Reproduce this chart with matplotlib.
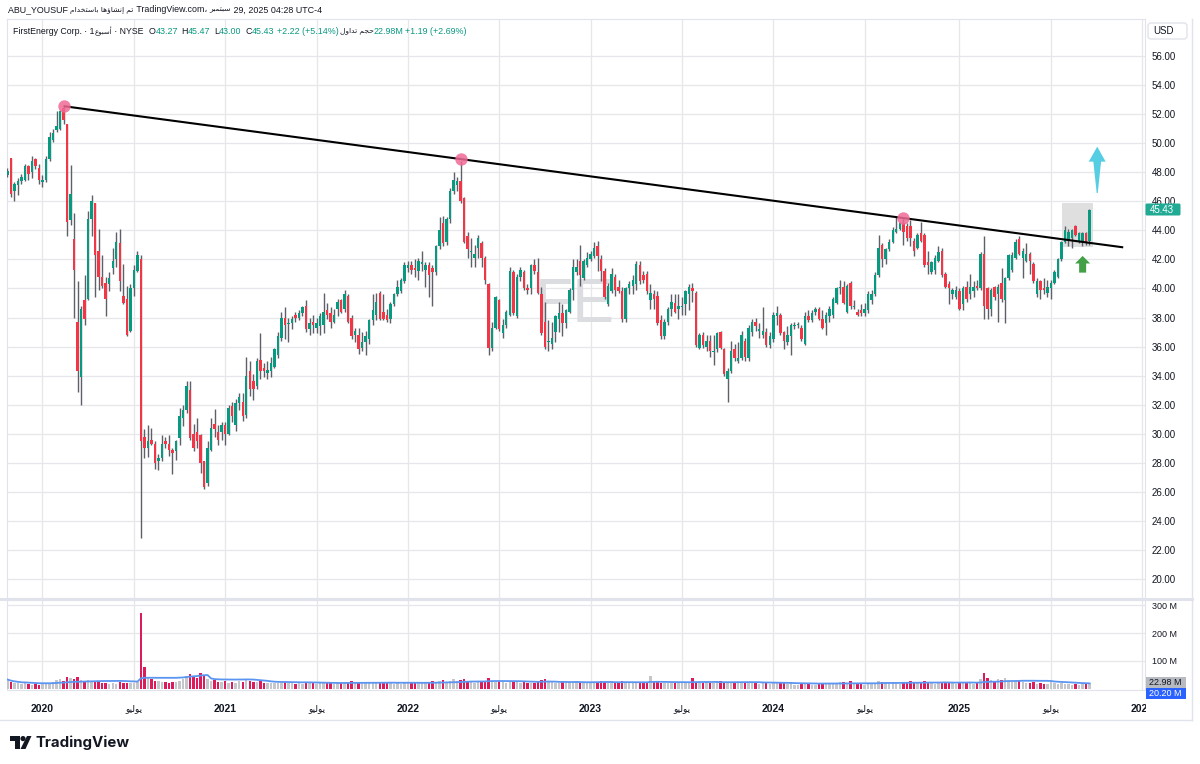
import numpy as np
import pandas as pd
import matplotlib
matplotlib.use("Agg")
import matplotlib.pyplot as plt
from matplotlib.patches import Rectangle, Polygon, Circle, FancyBboxPatch
from matplotlib.lines import Line2D

# FirstEnergy (FE) weekly candles, first bar = week of 2019-10-28
open_ = [
    47.8, 49.0, 46.7, 47.1, 47.4, 47.5, 48.4, 48.0, 48.9, 48.3,
    47.3, 47.5, 48.9, 50.2, 50.9, 51.0, 52.4, 51.3, 44.7, 43.4,
    37.7, 33.9, 39.2, 39.3, 44.8, 45.9, 42.6, 40.8, 40.4, 40.3,
    41.4, 42.0, 43.1, 39.5, 39.3, 37.1, 40.0, 41.2, 42.0, 29.8,
    29.0, 29.6, 29.3, 28.1, 28.3, 29.5, 29.3, 28.9, 28.8, 29.7,
    31.1, 31.6, 33.0, 30.0, 30.1, 29.9, 28.1, 26.6, 28.9, 30.7,
    30.1, 30.1, 30.6, 30.0, 31.9, 30.6, 32.1, 32.2, 31.3, 34.3,
    33.6, 33.3, 35.1, 34.5, 34.2, 34.3, 34.6, 35.4, 36.6, 38.0,
    37.55, 37.6, 38.2, 38.0, 38.3, 38.8, 37.2, 37.7, 37.3, 37.4,
    37.5, 38.5, 38.3, 37.7, 38.6, 39.2, 38.6, 39.5, 38.0, 36.8,
    36.8, 35.9, 36.3, 36.5, 37.8, 38.2, 39.7, 38.4, 38.2, 37.9,
    38.9, 39.6, 39.8, 40.5, 41.4, 41.6, 41.4, 41.2, 41.7, 41.3,
    41.6, 41.4, 41.1, 42.9, 44.5, 43.2, 44.8, 46.7, 47.1, 47.4,
    46.2, 43.6, 42.5, 42.1, 42.8, 43.1, 42.1, 40.3, 35.9, 37.3,
    39.2, 36.9, 37.5, 38.2, 41.1, 38.1, 40.8, 41.1, 40.0, 40.0,
    41.6, 41.1, 39.6, 37.7, 36.3, 36.2, 37.0, 37.9, 38.3, 37.6,
    38.4, 39.9, 41.1, 41.9, 40.7, 41.6, 42.0, 42.2, 42.9, 42.0,
    41.2, 38.9, 39.8, 40.8, 40.1, 39.8, 37.9, 40.0, 40.2, 40.3,
    41.6, 40.9, 41.0, 39.2, 39.6, 39.5, 37.8, 36.7, 37.7, 38.6,
    39.0, 38.6, 38.7, 38.9, 39.6, 40.0, 39.7, 35.9, 36.8, 36.0,
    36.4, 35.6, 35.8, 37.0, 35.8, 33.8, 34.3, 35.8, 35.0, 35.2,
    36.4, 35.2, 37.0, 37.7, 37.1, 36.8, 37.0, 36.1, 36.5, 38.1,
    38.2, 37.0, 36.3, 36.7, 37.4, 37.5, 37.3, 36.2, 38.1, 37.8,
    38.4, 38.6, 37.9, 37.6, 38.1, 38.2, 39.0, 40.0, 40.1, 38.4,
    40.4, 38.7, 38.4, 38.5, 38.3, 38.5, 39.2, 39.6, 40.9, 43.0,
    42.0, 42.7, 43.2, 43.9, 44.1, 44.5, 44.3, 44.3, 43.3, 42.8,
    43.8, 43.7, 41.8, 41.1, 41.3, 41.9, 42.6, 41.0, 40.3, 39.6,
    39.4, 39.8, 38.9, 40.1, 39.6, 39.8, 40.2, 40.0, 42.4, 40.0,
    38.6, 40.1, 39.6, 40.4, 39.2, 40.7, 41.3, 42.1, 43.4, 42.1,
    41.9, 42.4, 41.7, 39.6, 40.5, 40.0, 39.7, 40.0, 40.4, 40.8,
    42.0, 43.2, 43.3, 43.5, 44.3, 43.2, 43.2, 43.8, 43.27,
]
high = [
    48.3, 49.0, 47.3, 47.6, 47.9, 48.6, 48.5, 49.1, 49.0, 48.6,
    47.8, 49.1, 50.8, 51.0, 52.2, 52.3, 52.6, 51.3, 48.5, 45.2,
    40.5, 38.8, 40.9, 45.3, 46.4, 45.9, 44.1, 42.3, 40.8, 41.1,
    42.8, 43.9, 44.1, 41.7, 40.2, 40.3, 41.6, 42.6, 42.3, 30.3,
    30.6, 30.4, 29.5, 28.6, 29.9, 29.8, 29.9, 29.0, 29.6, 31.8,
    32.0, 33.6, 33.6, 30.7, 31.1, 30.0, 28.1, 29.5, 31.1, 31.7,
    30.6, 30.8, 30.8, 32.0, 32.2, 32.4, 32.8, 32.8, 35.3, 35.0,
    34.1, 35.2, 36.9, 34.9, 35.0, 35.3, 35.9, 37.0, 38.4, 38.7,
    38.0, 38.1, 38.4, 38.5, 38.8, 39.2, 38.0, 38.2, 38.0, 38.3,
    39.7, 39.0, 38.7, 38.6, 39.3, 39.3, 39.9, 39.6, 38.2, 37.3,
    37.3, 37.0, 37.1, 37.9, 39.6, 39.7, 39.8, 39.6, 38.6, 39.1,
    39.7, 40.6, 40.7, 41.8, 41.9, 41.9, 42.0, 42.1, 42.6, 41.8,
    41.8, 41.6, 43.0, 44.9, 45.0, 44.9, 46.9, 48.0, 47.7, 48.8,
    46.3, 43.9, 43.5, 43.0, 43.7, 43.3, 42.2, 40.4, 37.7, 39.5,
    39.3, 37.9, 38.5, 41.5, 41.3, 41.0, 41.5, 41.3, 40.3, 41.7,
    42.0, 42.1, 40.1, 39.1, 37.8, 37.7, 38.2, 39.1, 38.9, 38.6,
    40.0, 42.0, 42.0, 43.0, 42.0, 42.5, 42.6, 43.2, 43.3, 42.3,
    41.4, 40.4, 41.4, 41.0, 40.6, 40.1, 40.1, 40.5, 40.9, 41.9,
    41.9, 41.2, 41.2, 40.3, 39.9, 39.8, 38.2, 37.9, 38.7, 39.6,
    39.6, 39.6, 39.4, 39.9, 40.3, 40.4, 39.8, 36.9, 37.0, 36.8,
    36.8, 36.8, 37.0, 37.1, 35.9, 34.5, 36.4, 36.2, 36.3, 37.1,
    36.6, 37.5, 37.9, 38.0, 37.6, 38.7, 37.3, 37.0, 38.4, 38.8,
    38.3, 37.1, 37.4, 37.6, 37.7, 37.7, 37.5, 38.4, 38.5, 38.5,
    38.7, 38.7, 38.5, 38.4, 38.8, 39.4, 40.1, 40.6, 40.5, 40.3,
    40.5, 39.2, 38.6, 38.9, 39.0, 39.8, 39.9, 41.1, 43.7, 43.1,
    42.8, 43.4, 44.2, 44.9, 44.6, 44.85, 44.5, 44.7, 43.5, 43.8,
    44.6, 43.8, 42.6, 41.9, 42.3, 42.9, 42.8, 41.1, 40.5, 40.0,
    40.2, 40.0, 40.2, 40.5, 41.0, 40.5, 40.6, 42.5, 43.6, 40.1,
    40.0, 40.2, 40.3, 41.4, 40.8, 42.4, 42.5, 43.4, 43.6, 42.8,
    43.1, 42.5, 41.8, 40.7, 40.6, 40.7, 40.6, 40.6, 41.3, 42.1,
    43.3, 44.3, 44.1, 44.1, 44.4, 43.9, 43.9, 43.9, 45.47,
]
low = [
    47.7, 46.3, 46.0, 46.4, 47.2, 47.4, 47.5, 47.6, 48.2, 47.2,
    47.0, 47.3, 48.8, 50.1, 50.8, 50.9, 51.3, 43.6, 44.4, 38.0,
    32.9, 32.0, 37.5, 39.2, 43.6, 39.4, 39.9, 40.0, 38.1, 39.8,
    41.0, 41.5, 39.8, 38.9, 36.7, 37.0, 39.5, 41.1, 22.8, 28.3,
    28.4, 29.2, 27.6, 27.5, 28.1, 29.0, 28.5, 27.2, 28.2, 29.2,
    30.5, 31.4, 29.6, 28.8, 29.0, 27.3, 26.2, 26.4, 28.8, 29.8,
    29.2, 29.6, 29.2, 29.9, 30.8, 30.2, 31.6, 30.9, 31.1, 32.6,
    32.3, 33.1, 33.8, 33.9, 33.8, 33.9, 34.5, 35.2, 36.4, 36.5,
    36.3, 37.2, 37.7, 37.8, 38.1, 37.0, 36.8, 36.9, 36.9, 36.8,
    36.9, 37.9, 37.3, 37.6, 38.1, 38.3, 38.4, 37.6, 36.5, 36.3,
    35.5, 35.7, 35.4, 36.2, 37.5, 37.8, 37.8, 37.8, 37.7, 37.6,
    38.8, 39.5, 39.7, 40.4, 41.1, 41.0, 40.8, 40.6, 41.2, 40.1,
    39.4, 38.8, 40.9, 42.7, 42.9, 43.0, 44.5, 46.5, 46.7, 45.9,
    43.1, 42.1, 41.5, 41.5, 42.1, 41.5, 40.3, 35.4, 35.7, 37.2,
    37.1, 36.6, 37.3, 38.1, 38.2, 38.0, 40.5, 39.9, 39.6, 39.6,
    41.0, 39.6, 36.8, 35.8, 35.7, 35.8, 36.3, 37.0, 36.7, 37.3,
    38.3, 39.2, 40.9, 40.2, 40.6, 41.5, 41.9, 42.1, 41.2, 40.5,
    39.3, 38.8, 39.7, 39.5, 39.7, 37.7, 37.7, 39.6, 39.6, 39.9,
    40.3, 40.4, 39.6, 38.6, 38.6, 37.5, 36.5, 36.5, 37.5, 38.1,
    38.3, 37.9, 38.2, 38.2, 38.5, 39.1, 36.0, 35.8, 35.9, 35.7,
    35.3, 34.7, 35.6, 35.8, 34.0, 32.2, 34.2, 35.0, 34.9, 35.1,
    35.0, 35.0, 36.7, 37.1, 36.6, 36.6, 36.0, 35.9, 36.3, 37.5,
    36.8, 35.8, 36.1, 35.4, 37.2, 37.3, 36.4, 36.1, 37.7, 37.7,
    38.2, 37.8, 37.2, 36.8, 37.7, 38.0, 38.9, 39.6, 38.9, 38.3,
    38.6, 38.6, 38.1, 38.1, 38.1, 38.3, 38.9, 39.5, 40.8, 41.5,
    41.7, 42.6, 43.1, 43.8, 44.0, 43.0, 43.3, 42.9, 42.2, 42.7,
    43.2, 41.5, 41.0, 41.0, 41.0, 41.8, 40.8, 40.0, 38.9, 39.3,
    39.3, 38.5, 38.5, 39.1, 39.3, 39.4, 39.9, 39.9, 37.9, 37.9,
    38.1, 39.2, 37.7, 39.1, 37.6, 40.6, 41.1, 42.0, 42.3, 40.7,
    41.8, 41.0, 40.4, 39.4, 39.3, 39.6, 39.4, 39.3, 40.3, 40.7,
    41.9, 43.1, 42.9, 42.8, 43.6, 43.1, 42.9, 43.0, 43.00,
]
close = [
    48.1, 46.5, 47.2, 47.4, 47.7, 48.4, 47.9, 48.8, 48.4, 47.5,
    47.5, 48.9, 50.4, 50.7, 51.2, 52.2, 51.6, 44.6, 46.5, 41.3,
    34.3, 38.6, 37.9, 44.8, 46.0, 42.3, 40.8, 40.2, 39.3, 40.7,
    41.9, 43.2, 40.5, 39.0, 36.8, 40.0, 41.3, 42.3, 29.5, 29.0,
    29.5, 29.3, 28.0, 28.3, 29.3, 29.3, 28.9, 28.7, 29.5, 31.2,
    31.6, 33.3, 29.7, 29.0, 29.5, 28.0, 26.3, 29.0, 30.4, 30.3,
    29.6, 30.6, 30.0, 31.8, 31.2, 32.1, 32.5, 31.2, 34.0, 33.1,
    33.1, 35.0, 34.3, 34.3, 34.4, 34.9, 35.8, 36.7, 38.0, 37.5,
    37.6, 37.9, 38.0, 38.3, 38.7, 37.2, 37.6, 37.5, 37.6, 38.1,
    38.4, 38.2, 37.7, 38.2, 39.1, 38.4, 39.6, 37.7, 36.7, 37.1,
    35.8, 36.3, 36.7, 37.8, 38.5, 39.1, 37.9, 37.9, 37.8, 38.9,
    39.6, 40.1, 40.6, 41.6, 41.6, 41.3, 41.3, 41.9, 41.8, 41.6,
    40.9, 41.1, 42.9, 44.0, 43.1, 44.8, 46.7, 47.5, 47.4, 46.0,
    43.2, 42.7, 42.6, 42.4, 43.5, 42.1, 40.6, 35.9, 37.3, 39.4,
    37.2, 37.5, 38.4, 41.2, 38.3, 40.8, 41.3, 40.0, 39.9, 41.6,
    41.2, 39.7, 36.9, 36.0, 36.4, 36.6, 38.1, 38.3, 37.6, 38.5,
    39.9, 41.5, 41.5, 40.9, 41.9, 42.1, 42.4, 42.8, 42.2, 41.2,
    39.4, 40.2, 41.0, 39.9, 39.8, 37.9, 40.0, 40.3, 40.6, 41.7,
    40.5, 40.6, 39.8, 39.7, 39.3, 37.6, 36.7, 37.7, 38.6, 39.1,
    38.4, 38.8, 38.8, 39.8, 40.1, 39.8, 36.1, 36.8, 36.1, 36.4,
    35.7, 35.7, 36.9, 35.9, 34.1, 34.3, 35.7, 35.2, 35.2, 36.8,
    35.3, 37.3, 37.7, 37.4, 37.2, 37.1, 36.1, 36.7, 38.2, 38.3,
    36.9, 36.4, 36.8, 37.5, 37.5, 37.55, 36.5, 38.1, 37.8, 38.3,
    38.6, 37.9, 37.3, 38.2, 38.6, 39.3, 40.0, 40.05, 39.0, 40.2,
    38.8, 38.8, 38.2, 38.3, 38.6, 39.6, 39.6, 40.9, 42.8, 42.0,
    42.7, 43.2, 44.0, 44.1, 44.5, 43.9, 43.5, 43.5, 42.6, 43.7,
    43.3, 41.6, 41.6, 41.8, 42.1, 42.5, 40.9, 40.1, 40.0, 39.9,
    39.9, 38.6, 40.0, 39.3, 40.1, 40.1, 40.0, 42.4, 38.8, 38.6,
    39.9, 39.4, 40.1, 39.3, 40.7, 42.3, 42.3, 43.2, 42.4, 42.6,
    42.4, 41.9, 40.5, 40.5, 39.9, 39.9, 40.1, 40.4, 41.1, 42.0,
    43.2, 44.0, 43.9, 44.0, 43.7, 43.8, 43.8, 43.21, 45.43,
]
# weekly volume, millions
volume_m = [
    34, 26, 22, 20, 18, 21, 19, 16, 17, 13,
    20, 18, 22, 26, 33, 34, 28, 44, 40, 36,
    42, 32, 28, 33, 26, 30, 24, 22, 20, 18,
    20, 18, 24, 22, 23, 20, 22, 26, 272, 80,
    40, 34, 30, 28, 25, 24, 22, 26, 24, 30,
    34, 48, 55, 44, 40, 58, 45, 36, 30, 32,
    26, 24, 28, 22, 26, 23, 28, 24, 32, 28,
    26, 24, 28, 23, 20, 22, 21, 23, 28, 26,
    20, 22, 18, 20, 19, 26, 22, 20, 18, 21,
    24, 20, 22, 19, 20, 23, 21, 26, 28, 22,
    26, 20, 22, 24, 20, 22, 26, 23, 24, 20,
    18, 20, 19, 22, 20, 23, 26, 20, 21, 24,
    26, 28, 24, 30, 32, 26, 28, 34, 28, 31,
    36, 28, 24, 22, 24, 26, 28, 40, 30, 26,
    28, 24, 22, 30, 28, 26, 22, 24, 20, 22,
    20, 24, 32, 34, 28, 24, 22, 23, 24, 22,
    26, 22, 28, 22, 20, 22, 23, 26, 24, 30,
    26, 24, 28, 22, 24, 30, 23, 22, 20, 24,
    22, 20, 26, 48, 28, 24, 20, 22, 21, 24,
    22, 20, 23, 24, 20, 38, 26, 24, 22, 24,
    23, 22, 28, 30, 26, 24, 22, 24, 26, 22,
    24, 20, 22, 20, 18, 22, 20, 18, 22, 20,
    24, 20, 18, 22, 16, 14, 20, 22, 18, 16,
    16, 20, 22, 20, 18, 20, 22, 24, 26, 22,
    28, 20, 18, 20, 16, 20, 18, 22, 28, 26,
    22, 20, 24, 20, 18, 26, 24, 28, 26, 20,
    24, 30, 26, 20, 18, 20, 26, 24, 22, 20,
    18, 26, 22, 24, 20, 18, 22, 36, 58, 38,
    32, 28, 34, 32, 38, 30, 26, 28, 32, 26,
    20, 22, 26, 18, 22, 18, 19, 26, 22, 19,
    22, 18, 17, 16, 18, 16, 17, 19, 22.98,
]

first_week = "2019-10-28"
price_ticks = np.arange(20, 57, 2)
vol_ticks = [100, 200, 300]
trend_a = (16, 52.55)
trend_b = (317.6, 42.83)
touch_idx = [16, 129, 255]
box_x = (300.1, 308.95)
box_y = (42.88, 45.86)
ma_len = 20
vol_change_txt = "+1.19 (+2.69%)"

TEAL = "#089981"
RED = "#f23645"
WICK = "#5d6068"
GRID = "#e6e7ea"
BORDER = "#e0e3eb"
TXT = "#131722"

plt.rcParams["font.family"] = ["Liberation Sans", "DejaVu Sans"]

AR = {
    "ا": (0xFE8D, 0xFE8E), "أ": (0xFE83, 0xFE84), "إ": (0xFE87, 0xFE88),
    "ؤ": (0xFE85, 0xFE86), "د": (0xFEA9, 0xFEAA), "ر": (0xFEAD, 0xFEAE),
    "و": (0xFEED, 0xFEEE),
}
for ch, base in [("ب", 0xFE8F), ("ت", 0xFE95), ("ج", 0xFE9D), ("ح", 0xFEA1),
                 ("خ", 0xFEA5), ("س", 0xFEB1), ("ش", 0xFEB5), ("ع", 0xFEC9),
                 ("ل", 0xFEDD), ("م", 0xFEE1), ("ن", 0xFEE5), ("ه", 0xFEE9),
                 ("ي", 0xFEF1)]:
    AR[ch] = (base, base + 1, base + 2, base + 3)


def ar(s):
    # shape arabic letters and put them in visual order
    out = []
    for k, ch in enumerate(s):
        f = AR.get(ch)
        if f is None:
            out.append(ch)
            continue
        prev = s[k - 1] if k > 0 else ""
        nxt = s[k + 1] if k + 1 < len(s) else ""
        jp = prev in AR and len(AR[prev]) == 4
        jn = nxt in AR and len(f) == 4
        out.append(chr(f[(1 if jp else 0) + (2 if jn else 0)]))
    return "".join(reversed(out))


n = len(close)
assert len(open_) == n and len(high) == n and len(low) == n and len(volume_m) == n
x = np.arange(n)
o = np.array(open_)
c = np.array(close)
h = np.array(high)
l = np.array(low)
v = np.array(volume_m, dtype=float)
up = c >= o

W, H = 1200, 764
fig = plt.figure(figsize=(12, 7.64), dpi=100)
L, R = 7, 1145
ax = fig.add_axes([L / W, 1 - 598 / H, (R - L) / W, (598 - 19) / H])
axv = fig.add_axes([L / W, 1 - 690 / H, (R - L) / W, (690 - 600) / H])

xmax = 323.8
for a in (ax, axv):
    a.set_xlim(-0.1, xmax)
    for s in a.spines.values():
        s.set_color(BORDER)
    a.set_axisbelow(True)
    a.grid(True, color=GRID, lw=0.9)
    a.yaxis.tick_right()

# time ticks
dates = pd.date_range(first_week, periods=340, freq="7D")
dser = pd.Series(dates)
tick_pos, tick_lab = [], []
for yr in range(2020, 2027):
    i = int(np.argmax((dser.dt.year == yr).values))
    tick_pos.append(i)
    tick_lab.append(str(yr))
    if yr < 2026:
        j = int(np.argmax(((dser.dt.year == yr) & (dser.dt.month == 7)).values))
        tick_pos.append(j)
        tick_lab.append(ar("يوليو"))

ax.set_xticks(tick_pos)
ax.set_xticklabels([])
ax.tick_params(length=0)
axv.set_xticks(tick_pos)
axv.set_xticklabels(tick_lab)
axv.tick_params(axis="x", length=0, pad=10, labelsize=6.5, labelcolor=TXT)
for t in axv.get_xticklabels():
    if t.get_text().isdigit():
        t.set_fontweight("bold")
        t.set_fontsize(7.5)

# price pane
ax.set_ylim(18.69, 58.55)
ax.set_yticks(price_ticks)
ax.set_yticklabels([f"{p:.2f}" for p in price_ticks])
ax.tick_params(axis="y", length=0, pad=5, labelsize=7, labelcolor=TXT)

ax.text(161.6, 38.86, "FE", fontsize=45, color="#dcdde0", ha="center",
        va="center", zorder=1)
ax.add_patch(Rectangle((box_x[0], box_y[0]), box_x[1] - box_x[0],
                       box_y[1] - box_y[0], color="#dcdcdc", alpha=0.9,
                       zorder=2, lw=0))

lo = np.minimum(l, np.minimum(o, c))
hi = np.maximum(h, np.maximum(o, c))
ax.vlines(x, lo, hi, color=WICK, lw=1, zorder=3)
body = np.maximum(np.abs(c - o), 0.07)
ax.bar(x, body, bottom=np.minimum(o, c), width=0.7,
       color=np.where(up, TEAL, RED), lw=0, zorder=4)

ax.plot([trend_a[0], trend_b[0]], [trend_a[1], trend_b[1]], color="black",
        lw=1.5, zorder=5, solid_capstyle="butt")
slope = (trend_b[1] - trend_a[1]) / (trend_b[0] - trend_a[0])
tx = np.array(touch_idx)
ax.scatter(tx, trend_a[1] + slope * (tx - trend_a[0]), s=80, color="#f06a96",
           alpha=0.85, lw=0, zorder=6)

# arrows
bx = 310.2
ax.add_patch(Polygon([(bx, 49.76), (bx + 2.4, 48.73), (bx + 1.1, 48.73),
                      (bx + 0.15, 46.57), (bx - 0.15, 46.57),
                      (bx - 1.1, 48.73), (bx - 2.4, 48.73)],
                     closed=True, color="#55cde2", lw=0, zorder=6))
gx = 306.05
ax.add_patch(Polygon([(gx, 42.24), (gx + 2.15, 41.72), (gx + 1.0, 41.72),
                      (gx + 1.0, 41.09), (gx - 1.0, 41.09),
                      (gx - 1.0, 41.72), (gx - 2.15, 41.72)],
                     closed=True, color="#43a047", lw=0, zorder=6))

# volume pane
axv.set_ylim(-3.6, 317.9)
axv.set_yticks(vol_ticks)
axv.set_yticklabels([f"{t} M" for t in vol_ticks])
axv.tick_params(axis="y", length=0, pad=5, labelsize=6.5, labelcolor=TXT)
axv.bar(x, v, width=0.7, color=np.where(up, "#c4c6cc", "#dc1c5a"), lw=0,
        zorder=3)
ma = pd.Series(v).rolling(ma_len, min_periods=1).mean()
axv.plot(x, ma, color="#5b95f2", lw=1.3, zorder=4)

# overlay in pixel coordinates
ov = fig.add_axes([0, 0, 1, 1], zorder=10)
ov.set_xlim(0, W)
ov.set_ylim(H, 0)
ov.axis("off")

ov.add_line(Line2D([0, 1192], [598.5, 598.5], color=BORDER, lw=2.2))
ov.add_line(Line2D([0, 1192], [719.5, 719.5], color=BORDER, lw=1))
ov.add_line(Line2D([1192, 1192], [19, 720], color=BORDER, lw=1))
ov.add_patch(Rectangle((1146, 700), 45, 18, color="white", lw=0))

ov.add_patch(FancyBboxPatch((1148, 23), 39, 16, boxstyle="round,pad=0,rounding_size=3",
                            fc="white", ec=BORDER, lw=1))
ov.text(1153, 31.5, "USD", fontsize=7, color=TXT, va="center")

ov.add_patch(FancyBboxPatch((1145.5, 203.5), 35, 12, boxstyle="round,pad=0,rounding_size=1.5",
                            fc="#22ab94", ec="none"))
ov.text(1150, 209.8, f"{c[-1]:.2f}", fontsize=7, color="white", va="center")

ov.add_patch(Rectangle((1145.5, 677), 40, 10.5, color="#b8bac2", lw=0))
ov.text(1149, 682.5, f"{v[-1]:.2f} M", fontsize=6.5, color=TXT, va="center")
ov.add_patch(Rectangle((1145.5, 688), 40, 10.5, color="#2962ff", lw=0))
ov.text(1149, 693.3, f"{ma.iloc[-1]:.2f} M", fontsize=6.5, color="white", va="center")

r = fig.canvas.get_renderer()


def row(x0, y0, parts):
    xx = x0
    for s, col, size in parts:
        t = ov.text(xx, y0, s, color=col, fontsize=size, va="center", ha="left")
        xx += t.get_window_extent(r).width


chg = c[-1] - c[-2]
row(8, 10, [("ABU_YOUSUF ", TXT, 6.4), (ar("تم إنشاؤها باستخدام"), TXT, 5.4),
            (" TradingView.com، ", TXT, 6.4), (ar("سبتمبر"), TXT, 5.4),
            (" 29, 2025 04:28 UTC-4", TXT, 6.4)])
row(13, 31, [("FirstEnergy Corp. · 1", TXT, 6.3), (ar("أسبوع"), TXT, 5.0),
             (" · NYSE", TXT, 6.3)])
row(149, 31, [("O", TXT, 6.4), (f"{o[-1]:.2f}", TEAL, 6.4)])
row(181, 31, [("H", TXT, 6.4), (f"{h[-1]:.2f}", TEAL, 6.4)])
row(214, 31, [("L", TXT, 6.4), (f"{l[-1]:.2f}", TEAL, 6.4)])
row(245, 31, [("C", TXT, 6.4), (f"{c[-1]:.2f}", TEAL, 6.4)])
row(277, 31, [(f"{chg:+.2f} ({chg / c[-2] * 100:+.2f}%)", TEAL, 6.4)])
row(340, 31, [(ar("حجم تداول"), TXT, 5.4), (f"{v[-1]:.2f}M", TEAL, 6.4)])
row(405, 31, [(vol_change_txt, TEAL, 6.4)])

# TradingView logo
ov.add_patch(Rectangle((10, 736), 9.5, 5, color="#131722", lw=0))
ov.add_patch(Rectangle((14.5, 736), 5, 13, color="#131722", lw=0))
ov.add_patch(Circle((23, 738.6), 2.6, color="#131722", lw=0))
ov.add_patch(Polygon([(20.5, 749), (27, 736), (31.5, 736), (25.5, 749)],
                     closed=True, color="#131722", lw=0))
ov.text(35, 742.5, "TradingView", fontsize=10.8, fontweight="bold",
        family=["Inter", "DejaVu Sans"], color="#131722", va="center")

fig.savefig("out.png", dpi=100)
